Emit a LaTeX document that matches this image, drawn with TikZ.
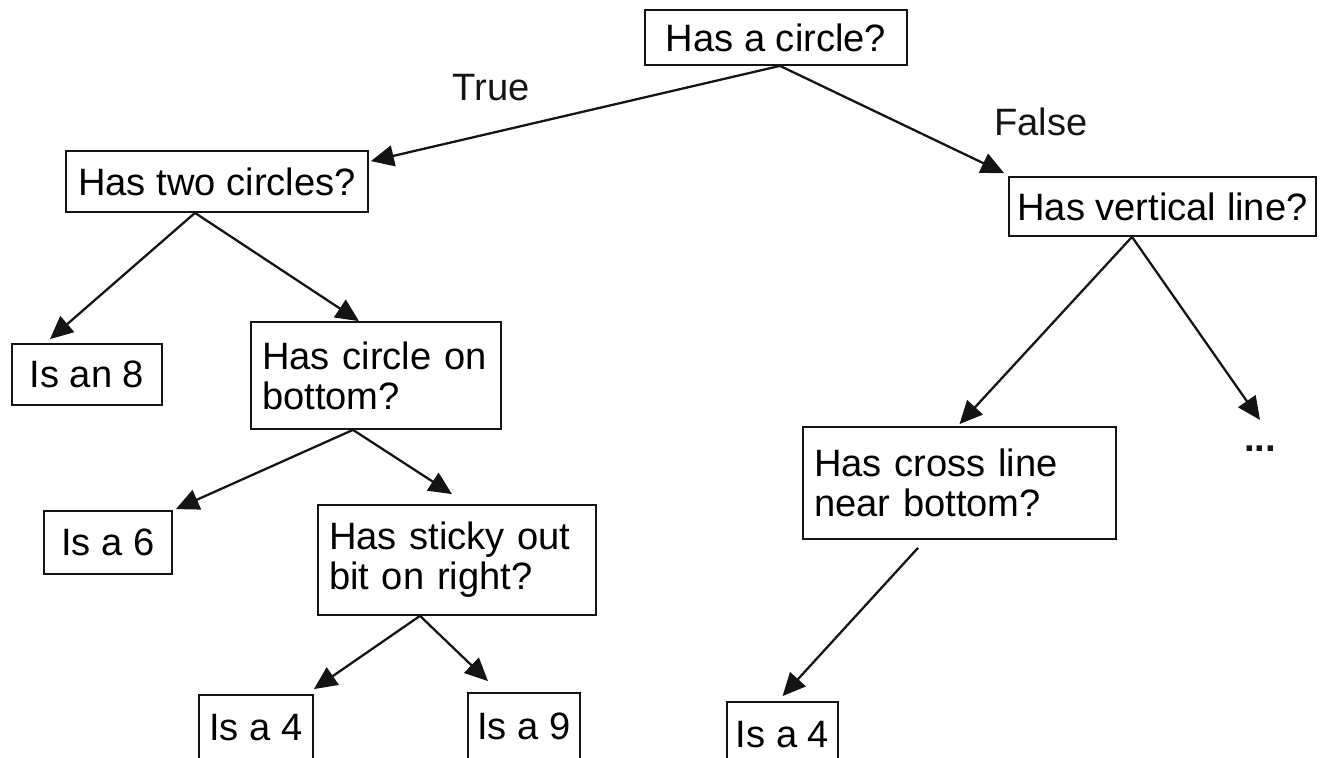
\documentclass[tikz,border=0pt]{standalone}
\usepackage{fontspec}
\setmainfont{Liberation Sans}
\usepackage{tikz}
\usetikzlibrary{arrows.meta}
\definecolor{inkBlack}{RGB}{20,20,20}
\newcommand{\treefont}{\fontsize{21.7pt}{22.8pt}\selectfont}
\tikzset{
  box/.style={draw=inkBlack, line width=1pt, fill=white, align=center, inner sep=0pt, font=\treefont},
  qbox/.style={box, align=left, inner xsep=0.22cm},
  branch/.style={font=\treefont, text=inkBlack},
  flow/.style={-{Triangle[length=4.6mm,width=4.2mm]}, line width=1.3pt, draw=inkBlack}
}
\begin{document}
\begin{tikzpicture}
        \path[use as bounding box, clip] (0,0) rectangle (26.4,-15.16);
        % questions
        \node[box, minimum width=5.24cm, minimum height=1.10cm] (top) at (15.52,-0.75) {Has a circle?};
        \node[box, minimum width=6.04cm, minimum height=1.22cm] (two) at (4.34,-3.63) {Has two circles?};
        \node[box, minimum width=6.14cm, minimum height=1.18cm] (vert) at (23.25,-4.13) {Has vertical line?};
        \node[qbox, text width=4.56cm, minimum height=2.14cm] (cbot) at (7.52,-7.51) {Has circle on\\bottom?};
        \node[qbox, text width=5.82cm, minimum height=2.24cm] (cross) at (19.19,-9.66) {Has cross line\\near bottom?};
        \node[qbox, text width=5.12cm, minimum height=2.20cm] (sticky) at (9.14,-11.20) {Has sticky out\\bit on right?};
        % answers
        \node[box, minimum width=3.00cm, minimum height=1.22cm] (eight) at (1.74,-7.49) {Is an 8};
        \node[box, minimum width=2.56cm, minimum height=1.26cm] (six) at (2.16,-10.85) {Is a 6};
        \node[box, minimum width=2.28cm, minimum height=1.32cm] (fourL) at (5.12,-14.56) {Is a 4};
        \node[box, minimum width=2.24cm, minimum height=1.32cm] (nine) at (10.48,-14.52) {Is a 9};
        \node[box, minimum width=2.22cm, minimum height=1.32cm] (fourR) at (15.65,-14.70) {Is a 4};
        \node[branch, anchor=base, inner sep=0pt] (dots) at (25.2,-9.04) {\textbf{...}};
        % branch labels
        \node[branch] (yes) at (9.82,-1.76) {True};
        \node[branch] (no) at (20.82,-2.44) {False};
        % edges
        \draw[flow] ([xshift=0.08cm]top.south) -- ([shift={(0.04,-0.22)}]two.north east);
        \draw[flow] ([xshift=0.08cm]top.south) -- ([shift={(-0.08,0.06)}]vert.north west);
        \draw[flow] ([xshift=-0.44cm]two.south) -- ([shift={(-0.74,0.08)}]eight.north);
        \draw[flow] ([xshift=-0.44cm]two.south) -- ([xshift=-0.34cm]cbot.north);
        \draw[flow] ([xshift=-0.61cm]vert.south) -- ([yshift=0.04cm]cross.north);
        \draw[flow] ([xshift=-0.61cm]vert.south) -- ([yshift=0.52cm]dots.north);
        \draw[flow] ([xshift=-0.46cm]cbot.south) -- ([shift={(0.06,0.02)}]six.north east);
        \draw[flow] ([xshift=-0.46cm]cbot.south) -- ([shift={(-0.1,0.2)}]sticky.north);
        \draw[flow] ([shift={(-0.83,-0.16)}]cross.south) -- ([yshift=0.1cm]fourR.north);
        \draw[flow] ([xshift=-0.74cm]sticky.south) -- ([yshift=0.1cm]fourL.north east);
        \draw[flow] ([xshift=-0.74cm]sticky.south) -- ([shift={(-0.72,0.22)}]nine.north);
\end{tikzpicture}
\end{document}
